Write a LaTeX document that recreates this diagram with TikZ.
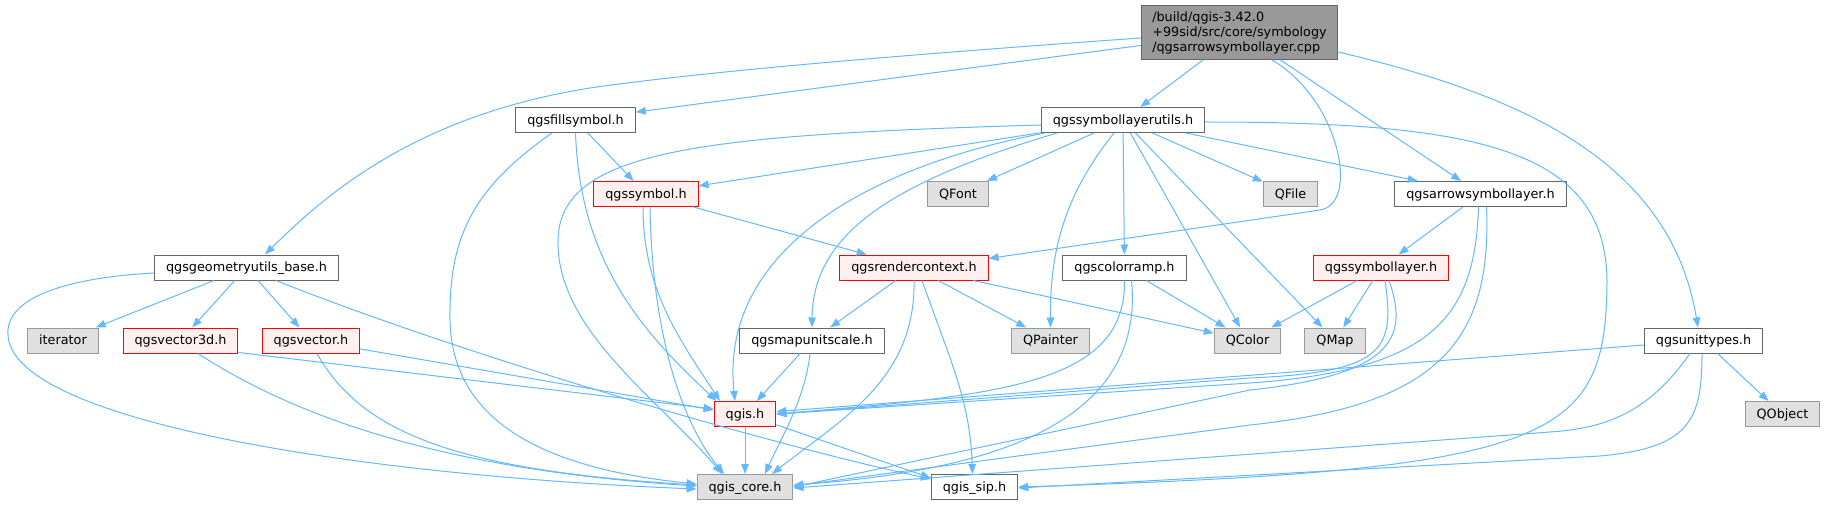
\documentclass[tikz,border=0pt]{standalone}
\usepackage{fontspec}
\setmainfont{DejaVu Sans}
\usepackage {tikz}
\usetikzlibrary {positioning}
\usetikzlibrary{arrows.meta}
\definecolor{edgeblue}{HTML}{63B8FF}
\definecolor{boxgray}{HTML}{666666}
\definecolor{extfill}{HTML}{E0E0E0}
\definecolor{extdraw}{HTML}{999999}
\definecolor{redfill}{HTML}{FFF0F0}
\definecolor{mainfill}{HTML}{999999}
\tikzset{
    header/.style = {rectangle, draw=boxgray, fill=white, line width=1pt, inner xsep=11.5pt, inner ysep=0pt,
        minimum height=25pt, text height=11pt, text depth=2.5pt, font=\fontsize{12.8}{15}\selectfont},
    extern/.style = {header, draw=extdraw, fill=extfill},
    redhead/.style = {header, draw=red, fill=redfill},
    source/.style = {rectangle, draw=boxgray, fill=mainfill, line width=1pt, inner xsep=11pt, inner ysep=4pt,
        minimum height=54pt, align=left, font=\fontsize{12.8}{15}\selectfont}}
\begin{document}
\begin{tikzpicture}[x=1pt, y=-1pt, on grid, line width=1pt,
    dep/.style = {draw=edgeblue, -{Triangle[length=10pt,width=7.5pt]}}
    ]
    \useasboundingbox (0,0) rectangle (1825,505);
    \node[source] (main) at (1239.5,32.5) {/build/qgis-3.42.0\\+99sid/src/core/symbology\\/qgsarrowsymbollayer.cpp};
    \node[header] (utils) [below left = 87.5pt and 116.5pt of main] {qgssymbollayerutils.h};
    \node[header] (fill) [left = 547.5pt of utils] {qgsfillsymbol.h};
    \node[redhead] (symbol) [below right = 74pt and 70.5pt of fill] {qgssymbol.h};
    \node[extern] (QFont) [right = 312pt of symbol] {QFont};
    \node[extern] (QFile) [right = 332.5pt of QFont] {QFile};
    \node[header] (arrow) [right = 190pt of QFile] {qgsarrowsymbollayer.h};
    \node[redhead] (render) [below right = 73.5pt and 268pt of symbol] {qgsrendercontext.h};
    \node[header] (geom) [left = 667.5pt of render] {qgsgeometryutils\_base.h};
    \node[header] (ramp) [right = 210.5pt of render] {qgscolorramp.h};
    \node[redhead] (symlayer) [right = 256.5pt of ramp] {qgssymbollayer.h};
    \node[header] (mapunit) [below left = 73pt and 102pt of render] {qgsmapunitscale.h};
    \node[redhead] (vec3d) [below left = 73pt and 66pt of geom] {qgsvector3d.h};
    \node[extern] (iterator) [left = 117.5pt of vec3d] {iterator};
    \node[redhead] (vec) [right = 130.5pt of vec3d] {qgsvector.h};
    \node[extern] (QPainter) [right = 238.5pt of mapunit] {QPainter};
    \node[extern] (QColor) [right = 197pt of QPainter] {QColor};
    \node[extern] (QMap) [right = 87.5pt of QColor] {QMap};
    \node[header] (units) [right = 368.5pt of QMap] {qgsunittypes.h};
    \node[redhead] (qgis) [below left = 73.5pt and 67pt of mapunit] {qgis.h};
    \node[extern] (QObject) [below right = 73.5pt and 79pt of units] {QObject};
    \node[extern] (core) [below = 73pt of qgis] {qgis\_core.h};
    \node[header] (sip) [right = 229.5pt of core] {qgis\_sip.h};
    \draw[dep] ([yshift=-5.5pt]main.west) .. controls (900,55) and (700,72) .. (590,88) .. controls (420,115) and (330,190) .. ([xshift=18.5pt]geom.north);
    \draw[dep] (main) -- (fill);
    \draw[dep] (main) -- (utils);
    \draw[dep] ([xshift=32.5pt]main.south) .. controls (1340,100) and (1360,204) .. (1320,210) -- ([yshift=-4pt]render.north east);
    \draw[dep] (main) -- (arrow);
    \draw[dep] ([yshift=-19.5pt]main.east) .. controls (1520,95) and (1670,160) .. ([xshift=-5.5pt]units.north);
    \draw[dep] (fill) -- (symbol);
    \draw[dep] (fill.south) .. controls (580,260) and (640,330) .. ([xshift=3pt]qgis.north west);
    \draw[dep] ([xshift=-23.5pt]fill.south) .. controls (470,190) and (449,240) .. (450,320) .. controls (452,430) and (560,470) .. ([yshift=3pt]core.west);
    \draw[dep] (utils) -- (symbol);
    \draw[dep] (utils) -- (QFont);
    \draw[dep] (utils) -- (QFile);
    \draw[dep] (utils) -- (arrow);
    \draw[dep] (utils) -- (ramp);
    \draw[dep] ([xshift=-9pt]utils.south) .. controls (1060,200) and (1050,260) .. (QPainter.north);
    \draw[dep] (utils) -- (QColor);
    \draw[dep] (utils) -- (QMap);
    \draw[dep] ([xshift=-66pt]utils.south) .. controls (900,180) and (813,230) .. (mapunit.north);
    \draw[dep] ([xshift=-78pt]utils.south) .. controls (850,170) and (720,260) .. ([xshift=-10pt]qgis.north);
    \draw[dep] ([yshift=-5pt]utils.west) .. controls (700,135) and (560,150) .. (558,240) .. controls (556,330) and (660,400) .. ([xshift=-23pt]core.north);
    \draw[dep] ([yshift=-2pt]utils.east) .. controls (1480,122) and (1605,150) .. (1607,280) .. controls (1606,440) and (1560,470) .. (sip.east);
    \draw[dep] (symbol) -- (render);
    \draw[dep] ([xshift=-3pt]symbol.south) .. controls (643,290) and (680,340) .. ([xshift=-25pt]qgis.north);
    \draw[dep] ([xshift=4pt]symbol.south) .. controls (652,330) and (680,420) .. ([xshift=-21pt]core.north);
    \draw[dep] (render) -- (mapunit);
    \draw[dep] (render) -- (QPainter);
    \draw[dep] (render) -- (QColor);
    \draw[dep] (render.south) .. controls (916,380) and (840,420) .. ([xshift=27pt]core.north);
    \draw[dep] ([xshift=8pt]render.south) .. controls (950,360) and (970,400) .. ([xshift=-2pt]sip.north);
    \draw[dep] (mapunit) -- (qgis);
    \draw[dep] ([xshift=-2pt]mapunit.south) .. controls (805,400) and (780,440) .. ([xshift=20pt]core.north);
    \draw[dep] (ramp) -- (QColor);
    \draw[dep] (ramp.south) .. controls (1126,385) and (1000,395) .. (qgis.east);
    \draw[dep] ([xshift=7pt]ramp.south) .. controls (1145,420) and (1000,470) .. ([yshift=2pt]core.east);
    \draw[dep] (symlayer) -- (QColor);
    \draw[dep] (symlayer) -- (QMap);
    \draw[dep] ([xshift=4pt]symlayer.south) .. controls (1395,350) and (1385,372) .. (1250,378) -- (qgis.east);
    \draw[dep] ([xshift=8pt]symlayer.south) .. controls (1410,340) and (1390,375) .. (1250,390) -- (core.east);
    \draw[dep] (arrow) -- (symlayer);
    \draw[dep] ([xshift=-2pt]arrow.south) .. controls (1475,320) and (1430,370) .. (1250,383) -- (qgis.east);
    \draw[dep] ([xshift=6pt]arrow.south) .. controls (1492,340) and (1440,405) .. (1250,425) -- ([yshift=1pt]core.east);
    \draw[dep] (units) -- (qgis);
    \draw[dep] (units) -- (QObject);
    \draw[dep] ([xshift=-13.5pt]units.south) .. controls (1650,410) and (1610,428) .. (1550,432) -- ([yshift=-1pt]core.east);
    \draw[dep] ([xshift=-1.5pt]units.south) .. controls (1702,420) and (1690,448) .. (1600,456) -- ([yshift=-1pt]sip.east);
    \draw[dep] (geom) -- (iterator);
    \draw[dep] (geom) -- (vec3d);
    \draw[dep] (geom) -- (vec);
    \draw[dep] ([yshift=-5.5pt]geom.west) .. controls (60,278) and (5,300) .. (8,335) .. controls (12,420) and (350,475) .. ([yshift=-2pt]core.west);
    \draw[dep] ([xshift=29.5pt]geom.south) .. controls (450,350) and (750,440) .. ([yshift=8pt]sip.west);
    \draw[dep] ([yshift=1pt]vec3d.south east) -- ([yshift=5pt]qgis.west);
    \draw[dep] ([xshift=17.5pt]vec3d.south) .. controls (300,420) and (450,470) .. ([yshift=1pt]core.west);
    \draw[dep] (vec) -- ([yshift=4pt]qgis.west);
    \draw[dep] ([xshift=6pt]vec.south) .. controls (360,430) and (450,470) .. ([yshift=2pt]core.west);
    \draw[dep] (qgis) -- (core);
    \draw[dep] (qgis) -- ([yshift=9pt]sip.west);
\end{tikzpicture}
\end{document}
